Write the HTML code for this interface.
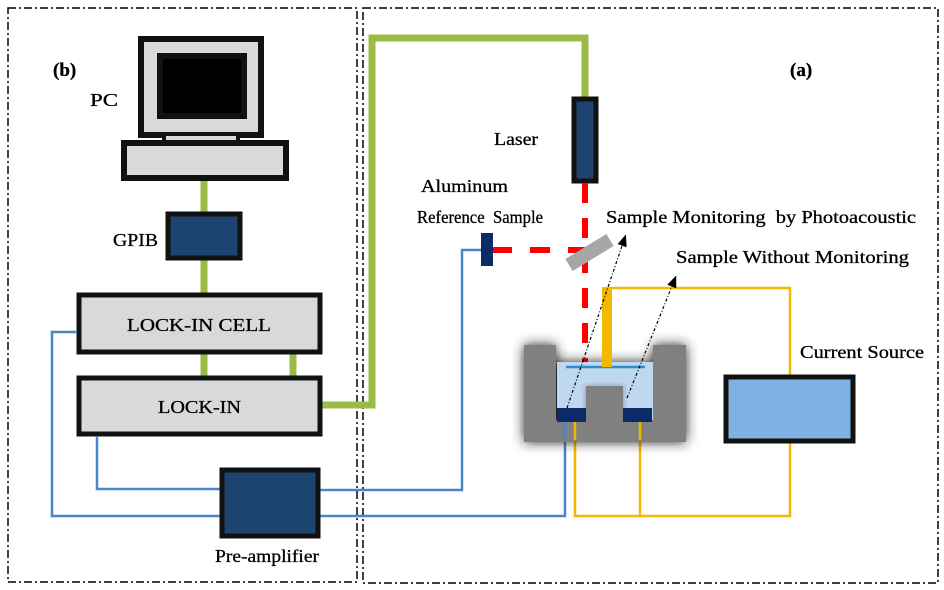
<!DOCTYPE html>
<html><head><style>
html,body{margin:0;padding:0;background:#fff;}
svg{display:block;}
text{font-family:"Liberation Serif",serif;font-size:18px;fill:#000;}
</style></head><body>
<svg width="944" height="590" viewBox="0 0 944 590" xmlns="http://www.w3.org/2000/svg">
<defs>
<filter id="bl" x="-20%" y="-20%" width="140%" height="140%"><feGaussianBlur stdDeviation="6"/></filter>
<filter id="bl2"><feGaussianBlur stdDeviation="3"/></filter>
<marker id="ar" markerWidth="10" markerHeight="10" refX="5" refY="5" orient="auto"><path d="M0,1 L10,5 L0,9 z" fill="#000"/></marker>
</defs>
<rect x="8" y="8" width="349" height="574" fill="none" stroke="#000" stroke-width="1.5" stroke-dasharray="8,3,2,3"/>
<rect x="363" y="8" width="575" height="575" fill="none" stroke="#000" stroke-width="1.5" stroke-dasharray="8,3,2,3"/>
<polyline points="322,405 372,405 372,38 585,38 585,97" fill="none" stroke="#9bbb47" stroke-width="7"/>
<line x1="204" y1="180" x2="204" y2="293" stroke="#9bbb47" stroke-width="7"/>
<line x1="204" y1="354" x2="204" y2="376" stroke="#9bbb47" stroke-width="7"/>
<line x1="293" y1="354" x2="293" y2="376" stroke="#9bbb47" stroke-width="7"/>
<rect x="141" y="39" width="120" height="96" fill="#d9d9d9" stroke="#111" stroke-width="6"/>
<rect x="160" y="56" width="84" height="60" fill="#000" stroke="#111" stroke-width="6"/>
<rect x="164" y="134" width="74" height="8" fill="#d9d9d9" stroke="#111" stroke-width="4"/>
<rect x="124" y="143" width="162" height="35" fill="#d9d9d9" stroke="#111" stroke-width="6"/>
<rect x="168" y="214" width="72" height="44" fill="#1d4370" stroke="#111" stroke-width="5"/>
<rect x="79" y="295" width="241" height="57" fill="#d9d9d9" stroke="#111" stroke-width="5"/>
<rect x="79" y="378" width="241" height="56" fill="#d9d9d9" stroke="#111" stroke-width="5"/>
<g fill="none" stroke="#4a86c8" stroke-width="2.5">
<polyline points="97,436 97,489 220,489"/>
<polyline points="77,332 52,332 52,516 220,516"/>
<polyline points="320,490 462,490 462,250 481,250"/>
<polyline points="320,516 565,516 565,412"/>
</g>
<rect x="222" y="470" width="96" height="66" fill="#1d4370" stroke="#111" stroke-width="5"/>
<rect x="574" y="99" width="22" height="82" fill="#1d4370" stroke="#111" stroke-width="5"/>
<line x1="585" y1="183" x2="585" y2="362" stroke="#f00" stroke-width="6" stroke-dasharray="20,15"/>
<line x1="492" y1="250" x2="585" y2="250" stroke="#f00" stroke-width="6" stroke-dasharray="20,18"/>
<rect x="481" y="233" width="12" height="33" fill="#0c2a66"/>
<line x1="569" y1="265" x2="610" y2="240" stroke="#a6a6a6" stroke-width="14"/>
<g fill="none" stroke="#f5b800" stroke-width="2.5">
<polyline points="612,288 790,288 790,375"/>
<polyline points="575,412 575,516 790,516 790,443"/>
<line x1="640" y1="412" x2="640" y2="516"/>
</g>
<path d="M524,345 H556 V362 H653 V345 H686 V442 H524 Z" fill="#222" filter="url(#bl)"/>
<path d="M524,345 H556 V420 H653 V345 H686 V442 H524 Z" fill="#808080"/>
<rect x="557" y="362" width="96" height="58" fill="#c4daf0"/>
<rect x="586" y="386" width="37" height="34" fill="#222" filter="url(#bl2)"/>
<path d="M557,362 H653 V420 H623 V386 H586 V420 H557 Z" fill="#bcd5ee" opacity="0.6"/>
<rect x="586" y="386" width="37" height="34" fill="#808080"/>
<rect x="524" y="420" width="162" height="22" fill="#808080"/>
<rect x="557" y="408" width="29" height="14" fill="#0c2a66"/>
<rect x="623" y="408" width="29" height="14" fill="#0c2a66"/>
<line x1="565" y1="422" x2="565" y2="440" stroke="#4a86c8" stroke-width="2.5"/>
<line x1="575" y1="422" x2="575" y2="440" stroke="#f5b800" stroke-width="2.5"/>
<line x1="640" y1="422" x2="640" y2="440" stroke="#f5b800" stroke-width="2.5"/>
<line x1="566" y1="367" x2="645" y2="367" stroke="#2e8ccc" stroke-width="2.5"/>
<rect x="602" y="287" width="10" height="80" fill="#f5b800"/>
<line x1="567" y1="408" x2="624" y2="240" stroke="#000" stroke-width="1.2" stroke-dasharray="3,2,1,2" marker-end="url(#ar)"/>
<line x1="627" y1="398" x2="674" y2="281" stroke="#000" stroke-width="1.2" stroke-dasharray="3,2,1,2" marker-end="url(#ar)"/>
<rect x="726" y="377" width="127" height="64" fill="#7fb2e3" stroke="#111" stroke-width="5"/>
<g style="stroke:#000;stroke-width:0.3">
<text x="53" y="76" font-weight="bold" style="font-size:19px">(b)</text>
<text x="790" y="76" font-weight="bold" style="font-size:19px">(a)</text>
<text x="90" y="106" textLength="28" lengthAdjust="spacingAndGlyphs">PC</text>
<text x="494" y="145" textLength="44" lengthAdjust="spacingAndGlyphs">Laser</text>
<text x="421" y="192" textLength="87" lengthAdjust="spacingAndGlyphs">Aluminum</text>
<text x="417" y="223" xml:space="preserve" textLength="126" lengthAdjust="spacingAndGlyphs">Reference  Sample</text>
<text x="606" y="223" xml:space="preserve" textLength="310" lengthAdjust="spacingAndGlyphs">Sample Monitoring  by Photoacoustic</text>
<text x="676" y="263" textLength="233" lengthAdjust="spacingAndGlyphs">Sample Without Monitoring</text>
<text x="113" y="246" textLength="45" lengthAdjust="spacingAndGlyphs">GPIB</text>
<text x="127" y="331" textLength="144" lengthAdjust="spacingAndGlyphs">LOCK-IN CELL</text>
<text x="158" y="413" textLength="83" lengthAdjust="spacingAndGlyphs">LOCK-IN</text>
<text x="800" y="358" textLength="124" lengthAdjust="spacingAndGlyphs">Current Source</text>
<text x="215" y="562" textLength="104" lengthAdjust="spacingAndGlyphs">Pre-amplifier</text>
</g>
</svg>
</body></html>
